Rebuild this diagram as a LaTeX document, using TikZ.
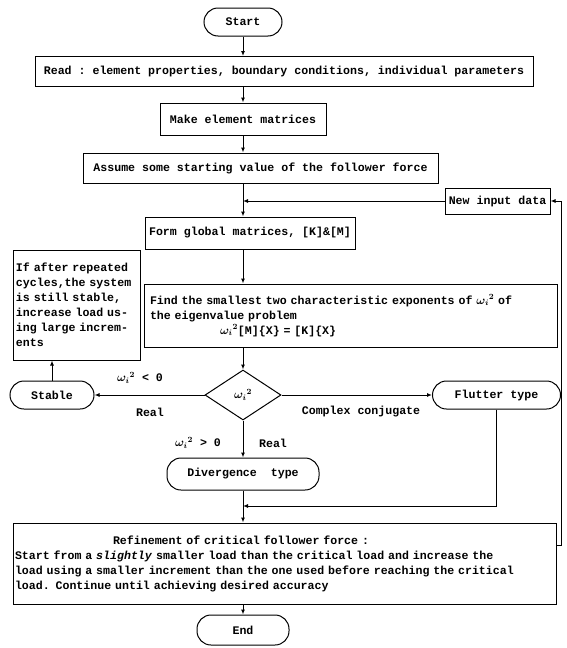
\documentclass[tikz,border=0pt]{standalone}
\usepackage{fontspec}
\setmonofont{Liberation Mono}
\usetikzlibrary{shapes.geometric, arrows.meta}

\newcommand{\omsq}{$\omega_i{}^2$}

\begin{document}
\begin{tikzpicture}[x = 1pt, y = -1pt,
    every node/.style = {font = \ttfamily\bfseries\boldmath\fontsize{11.6}{15}\selectfont, inner sep = 0pt},
    box/.style = {draw, line width = 1pt, minimum height = 28pt},
    term/.style = {box, rounded corners = 14pt},
    decide/.style = {draw, line width = 1pt, diamond, minimum width = 76pt, minimum height = 50pt},
    lne/.style = {line width = 1pt},
    arr/.style = {lne, -{Latex[length = 5pt, width = 4pt]}}]

  \useasboundingbox (0,0) rectangle (566,648);

  \node[term, minimum width = 78pt] (start) at (243, 22) {Start};
  \node[box, minimum width = 498pt, minimum height = 30pt] (read) at (284, 71.5) {Read : element properties, boundary conditions, individual parameters};
  \node[box, minimum width = 166pt, minimum height = 32pt] (make) at (243, 119) {Make element matrices};
  \node[box, minimum width = 355pt, minimum height = 30pt] (assume) at (260.5, 168) {Assume some starting value of the follower force};
  \node[box, minimum width = 105pt, minimum height = 26pt] (newin) at (497.5, 201) {New input data};
  \node[box, minimum width = 210pt, minimum height = 32pt] (form) at (250, 233) {Form global matrices, [K]\&[M]};
  \node[box, minimum width = 127pt, minimum height = 110pt, text width = 121pt, align = left] (cycle) at (76.5, 305)
    {If after repeated\\cycles,the system\\is still stable,\\increase load us-\\ing large increm-\\ents};
  \node[box, minimum width = 413pt, minimum height = 63pt, text width = 401pt, align = left] (find) at (350.5, 315.5)
    {Find the smallest two characteristic exponents of \omsq{} of\\the eigenvalue problem\\\hspace*{70pt}\omsq[M]\{X\} = [K]\{X\}};

  \node[decide] (dia) at (243, 395) {\omsq};
  \node[term, minimum width = 84pt] (stable) at (52, 395) {Stable};
  \node[term, minimum width = 128pt] (flutter) at (496.5, 395) {Flutter type};
  \node[term, minimum width = 152pt, minimum height = 32pt] (diverg) at (243, 474) {Divergence\ \ type};

  \node (lneg) at (140, 378) {\omsq{} < 0};
  \node (lreal) at (150, 412) {Real};
  \node (lcc) at (361, 412) {Complex conjugate};
  \node (lpos) at (198, 443) {\omsq{} > 0};
  \node (lrealb) at (273, 443) {Real};

  \node[box, minimum width = 543pt, minimum height = 81pt, text width = 539pt, align = left] (refine) at (284.5, 563.5)
    {\hspace*{98pt}Refinement of critical follower force :\\
     Start from a \textit{slightly} smaller load than the critical load and increase the\\
     load using a smaller increment than the one used before reaching the critical\\
     load. Continue until achieving desired accuracy};
  \node[term, minimum width = 92pt, minimum height = 30pt] (stop) at (243, 630) {End};

  \coordinate (m1) at (243, 201);
  \coordinate (m2) at (243, 506);
  \coordinate (loopx) at (561, 545);

  \draw[arr] (start) -- (start |- read.north);
  \draw[arr] (start |- read.south) -- (make);
  \draw[arr] (make) -- (make |- assume.north);
  \draw[lne] (m1 |- assume.south) -- (m1);
  \draw[arr] (newin) -- (m1);
  \draw[arr] (m1) -- (m1 |- form.north);
  \draw[arr] (m1 |- form.south) -- (m1 |- find.north);
  \draw[arr] (m1 |- find.south) -- (dia);
  \draw[arr] (dia) -- (stable);
  \draw[arr] (dia) -- (flutter);
  \draw[arr] (dia) -- (diverg);
  \draw[arr] (stable) -- (stable |- cycle.south);
  \draw[lne] (diverg) -- (m2);
  \draw[arr] (flutter) |- (m2);
  \draw[arr] (m2) -- (m2 |- refine.north);
  \draw[arr] (m2 |- refine.south) -- (stop);
  \draw[arr] (refine.east |- loopx) -- (loopx) |- (newin);
\end{tikzpicture}
\end{document}
